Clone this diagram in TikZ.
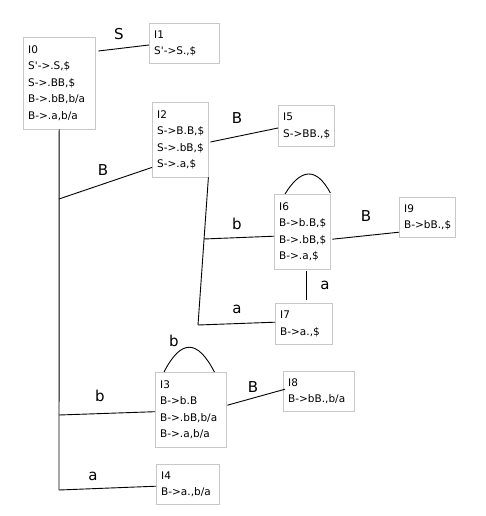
\documentclass[tikz,border=0pt]{standalone}
\usepackage{fontspec}
\setmainfont{DejaVu Sans}
\usetikzlibrary{positioning}

\definecolor{boxgray}{RGB}{200,200,200}
\exhyphenpenalty=10000
\hyphenpenalty=10000

\begin{document}
\begin{tikzpicture}[
    x=1pt, y=-1pt,
    state/.style={draw=boxgray, anchor=north west, align=left, inner xsep=5pt, inner ysep=3pt,
      font=\fontsize{10.5}{16.5}\selectfont},
    lbl/.style={font=\fontsize{15}{15}\selectfont, inner sep=0pt},
    edge/.style={black, line width=0.9pt}
  ]
    \useasboundingbox (0,0) rectangle (485,516);

    % item sets
    \node[state, text width=62, minimum height=92] (i0) at (23,37) {I0\\S\textquotesingle->.S,\$\\S->.BB,\$\\B->.bB,b/a\\B->.a,b/a};
    \node[state, text width=60, minimum height=40] (i1) at (149,23) {I1\\S\textquotesingle->S.,\$};
    \node[state, text width=46, minimum height=75] (i2) at (152,102) {I2\\S->B.B,\$\\S->.bB,\$\\S->.a,\$};
    \node[state, text width=46, minimum height=41] (i5) at (278,105) {I5\\S->BB.,\$};
    \node[state, text width=46, minimum height=75] (i6) at (274,194) {I6\\B->b.B,\$\\B->.bB,\$\\B->.a,\$};
    \node[state, text width=46, minimum height=40] (i9) at (399,197) {I9\\B->bB.,\$};
    \node[state, text width=47, minimum height=41] (i7) at (275,303) {I7\\B->a.,\$};
    \node[state, text width=61, minimum height=75] (i3) at (155,372) {I3\\B->b.B\\B->.bB,b/a\\B->.a,b/a};
    \node[state, text width=61, minimum height=40] (i8) at (283,371) {I8\\B->bB.,b/a};
    \node[state, text width=53, minimum height=40] (i4) at (156,464) {I4\\B->a.,b/a};

    % branch points
    \coordinate (j0) at (59,490);
    \coordinate (j0B) at (59,199);
    \coordinate (j0b) at (59,415);
    \coordinate (j2) at (198,325);
    \coordinate (j2b) at (203.8,239);

    % transitions
    \draw[edge] ([xshift=3pt,yshift=-14pt]i0.north east) -- ([yshift=-22pt]i1.north west);
    \draw[edge] (i0.south) -- (j0);
    \draw[edge] (j0B) -- ([yshift=10pt]i2.south west);
    \draw[edge] (j0b) -- ([yshift=-2pt]i3.west);
    \draw[edge] (j0) -- ([yshift=-2pt]i4.west);
    \draw[edge] ([xshift=2pt,yshift=-40pt]i2.north east) -- ([yshift=-23pt]i5.north west);
    \draw[edge] (i2.south east) -- (j2);
    \draw[edge] (j2b) -- ([yshift=-4.5pt]i6.west);
    \draw[edge] (j2) -- ([yshift=1.5pt]i7.west);
    \draw[edge] ([xshift=2pt,yshift=-7.5pt]i6.east) -- ([yshift=-15pt]i9.west);
    \draw[edge] ([xshift=4pt,yshift=-2pt]i6.south) -- ([xshift=2.5pt,yshift=3pt]i7.north);
    \draw[edge] ([xshift=11pt]i6.north west) .. controls +(16,-26) and +(-14,-26) .. ([yshift=1pt]i6.north east);
    \draw[edge] ([xshift=9pt]i3.north west) .. controls +(17,-33) and +(-17,-33) .. ([xshift=-12pt]i3.north east);
    \draw[edge] ([xshift=1pt,yshift=4.5pt]i3.east) -- ([xshift=2pt,yshift=2pt]i8.west);

    % symbols
    \node[lbl] (lS) at (119,34) {S};
    \node[lbl] (lB0) at (103,170) {B};
    \node[lbl] (lb0) at (100,396) {b};
    \node[lbl] (la0) at (93,476) {a};
    \node[lbl] (lB2) at (237,118) {B};
    \node[lbl] (lb2) at (237,224) {b};
    \node[lbl] (la2) at (237,309) {a};
    \node[lbl] (lB6) at (366,216) {B};
    \node[lbl] (la6) at (325,285) {a};
    \node[lbl] (lb3) at (174,341) {b};
    \node[lbl] (lB3) at (253,387) {B};
  \end{tikzpicture}
\end{document}
